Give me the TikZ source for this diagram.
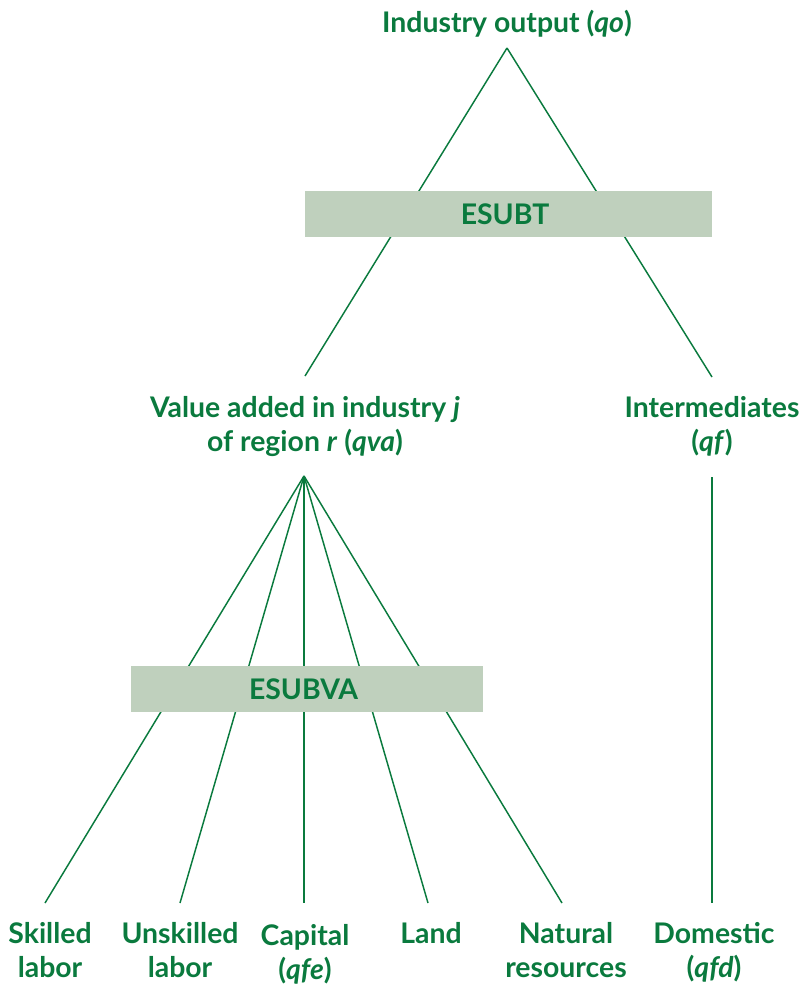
\documentclass[tikz,border=0pt]{standalone}
\usepackage{fontspec}
\setmainfont{Lato}
\definecolor{nestgreen}{HTML}{0A7A3E}
\definecolor{nestfill}{HTML}{BFD0BD}
\newcommand*{\nestBox}[4]{%
  \node [ nest, minimum width = #2, inner sep = 0pt ] (#1) at (#3) {%
    #4
  };
}

\begin{document}
\begin{tikzpicture}[ x = 0.75pt, y = -0.75pt,
    every node/.style = {text = nestgreen,
                         font = \fontsize{21.3}{25.5}\selectfont\bfseries,
                         align = center},
    leaf/.style = {anchor = base},
    nest/.style = {fill = nestfill, minimum height = 34.5pt},
    branch/.style = {draw = nestgreen, line width = 1.1pt}]

\useasboundingbox (0,0) rectangle (806,986);

% labels (base = last line)
\node (qo) [leaf] at (507,32) {Industry output (\textit{qo})};
\node (qva) [leaf] at (305,451) {Value added in industry \textit{j}\\of region \textit{r} (\textit{qva})};
\node (qf) [leaf] at (712,451) {Intermediates\\(\textit{qf})};
\node (skilled) [leaf] at (50,977) {Skilled\\labor};
\node (unskilled) [leaf] at (180,977) {Unskilled\\labor};
\node (capital) [leaf] at (305,979) {Capital\\(\textit{qfe})};
\node (land) [leaf] at (431,943) {Land};
\node (natres) [leaf] at (566,977) {Natural\\resources};
\node (qfd) [leaf] at (714,977) {Domestic\\(\textit{qfd})};
%
\coordinate (qo-tip) at (507,48);
\coordinate (qva-in) at (305,376);
\coordinate (qf-in) at (712,377);
\coordinate (qva-tip) at (304,476);
\coordinate (qf-tip) at (712,477);
\coordinate (skilled-in) at (45,903);
\coordinate (unskilled-in) at (180,903);
\coordinate (capital-in) at (304,903);
\coordinate (land-in) at (428,903);
\coordinate (natres-in) at (562,903);
\coordinate (qfd-in) at (712,903);
%
\draw [branch] (qo-tip) -- (qva-in);
\draw [branch] (qo-tip) -- (qf-in);
\foreach \leafname in {skilled, unskilled, capital, land, natres}
  \draw [branch] (qva-tip) -- (\leafname-in);
\draw [branch] (qf-tip) -- (qfd-in);
%
\nestBox{esubt}{305.25pt}{508.5,214}{ESUBT}
\nestBox{esubva}{264pt}{307,689}{ESUBVA}
\end{tikzpicture}
\end{document}
